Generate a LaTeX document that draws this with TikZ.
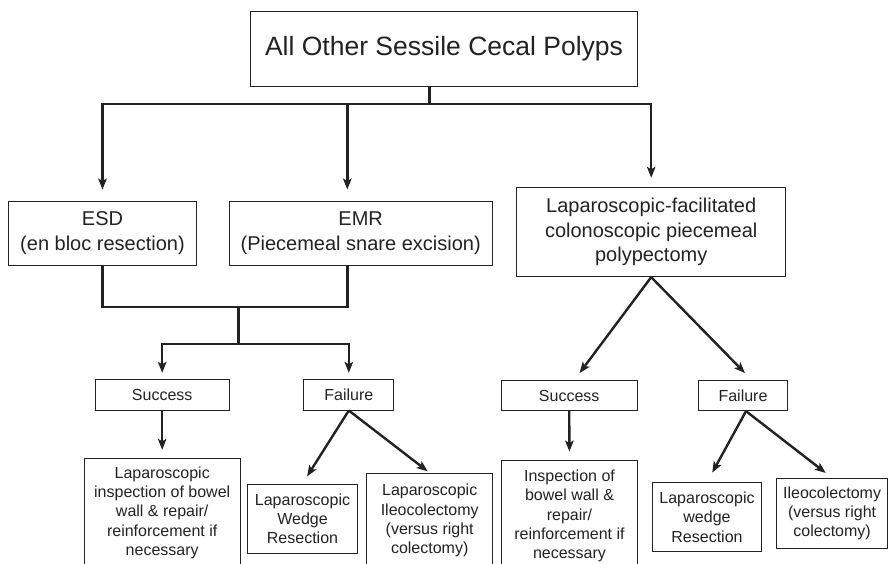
\documentclass[tikz,border=0pt]{standalone}
\usepackage{fontspec}
\setmainfont{Liberation Sans}
\usetikzlibrary{arrows.meta,calc}
\definecolor{ink}{HTML}{222222}
\begin{document}
\begin{tikzpicture}[x=1pt,y=-1pt,
  box/.style={draw=ink, line width=0.9pt, inner sep=0pt, align=center, text=ink},
  fbig/.style={font=\fontsize{26.5}{32}\selectfont},
  fmid/.style={font=\fontsize{20}{24.8}\selectfont},
  fsml/.style={font=\fontsize{16}{19.2}\selectfont},
  conn/.style={draw=ink, line width=2.4pt},
  arr/.style={conn, -{Stealth[length=11pt,width=8.5pt,inset=2.5pt]}}]
\useasboundingbox (0,0) rectangle (888,563);
\clip (0,0) rectangle (888,563);

\node[box,fbig,minimum width=386.6pt,minimum height=75.7pt] (top) at (444,48.9) {All Other Sessile Cecal Polyps};
\node[box,fmid,minimum width=188.4pt,minimum height=64pt] (esd) at (102.5,233) {ESD\\(en bloc resection)};
\node[box,fmid,minimum width=263.3pt,minimum height=64pt] (emr) at (360.7,233) {EMR\\(Piecemeal snare excision)};
\node[box,fmid,minimum width=269pt,minimum height=89.4pt] (lap) at (651.2,232) {Laparoscopic-facilitated\\colonoscopic piecemeal\\polypectomy};
\node[box,fsml,minimum width=134.3pt,minimum height=30.7pt] (succL) at (162.2,394.7) {Success};
\node[box,fsml,minimum width=90pt,minimum height=30.7pt] (failL) at (348.8,394.7) {Failure};
\node[box,fsml,minimum width=136.3pt,minimum height=30pt] (succR) at (569.2,395.7) {Success};
\node[box,fsml,minimum width=89.4pt,minimum height=30pt] (failR) at (743,395.7) {Failure};
\node[box,fsml,minimum width=155.7pt,minimum height=108.8pt] (inspL) at (162.2,512.7) {Laparoscopic\\inspection of bowel\\wall \& repair/\\reinforcement if\\necessary};
\node[box,fsml,minimum width=109.6pt,minimum height=69.3pt] (wedgeL) at (302.5,518.7) {Laparoscopic\\Wedge\\Resection};
\node[box,fsml,minimum width=126pt,minimum height=94.4pt] (ileoL) at (429.7,520.5) {Laparoscopic\\Ileocolectomy\\(versus right\\colectomy)};
\node[box,fsml,minimum width=135.6pt,minimum height=112pt] (inspR) at (569.5,516) {Inspection of\\bowel wall \&\\repair/\\reinforcement if\\necessary};
\node[box,fsml,minimum width=109.4pt,minimum height=69pt] (wedgeR) at (707,517.2) {Laparoscopic\\wedge\\Resection};
\node[box,fsml,minimum width=110.8pt,minimum height=70pt] (ileoR) at (832.1,513.3) {Ileocolectomy\\(versus right\\colectomy)};

\coordinate (jTop) at (429.3,104);
\draw[conn] (top.south -| jTop) -- (jTop);
\draw[arr,shorten >=11pt] (jTop) -| (esd.north);
\draw[arr,shorten >=9pt] (jTop) -| (lap.north);
\coordinate (emrT) at ($(emr.north west)+(118.7,0)$);
\draw[arr,shorten >=11pt] (emrT |- jTop) -- (emrT);

\coordinate (emrB) at ($(emr.south west)+(118.7,0)$);
\draw[conn] (esd.south) -- ++(0,41.7) -| (emrB);
\coordinate (jMid) at (238.3,306.7);
\draw[conn] (jMid) -- ++(0,37.3) coordinate (jLow);
\draw[arr,shorten >=6pt] (jLow) -| (succL.north);
\draw[arr,shorten >=6pt] (jLow) -| (failL.north);

\draw[arr,shorten >=8pt] (succL.south) -- (inspL.north);
\draw[arr,shorten >=8.5pt] (failL.south) -- (wedgeL.north);
\draw[arr,shorten >=2.5pt] (failL.south) -- (ileoL.north);
\draw[arr,shorten >=9pt] (lap.south) -- ([xshift=5pt]succR.north);
\draw[arr,shorten >=10pt] (lap.south) -- ([xshift=9pt]failR.north);
\draw[arr,shorten >=8pt] (succR.south) -- (inspR.north);
\draw[arr,shorten >=11pt] ([xshift=3pt]failR.south) -- (wedgeR.north);
\draw[arr,shorten >=8pt] ([xshift=3pt]failR.south) -- (ileoR.north);
\end{tikzpicture}
\end{document}
